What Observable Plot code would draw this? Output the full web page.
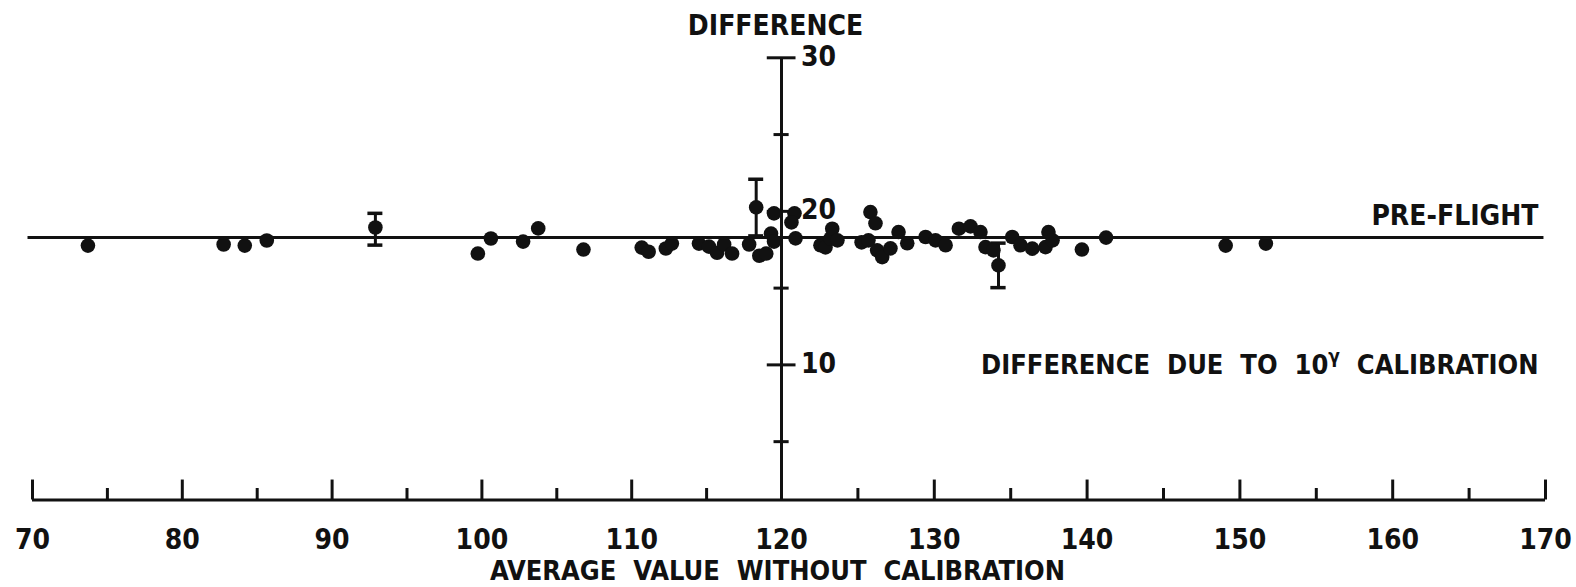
<!DOCTYPE html>
<html>
<head>
<meta charset="utf-8">
<script src="https://cdn.jsdelivr.net/npm/d3@7"></script>
<script src="https://cdn.jsdelivr.net/npm/@observablehq/plot@0.6"></script>
<style>
  html, body { margin: 0; padding: 0; background: #fff; }
  svg { display: block; }
</style>
</head>
<body>
<div id="chart"></div>
<script>
// Average value without calibration (x) and difference (y) of each observation
const avgValue = [73.7, 82.76, 84.17, 85.64, 92.89, 99.73, 100.6, 102.75, 103.76, 106.78,
  110.67, 111.13, 112.28, 112.68, 114.49, 115.16, 115.7, 116.17, 116.7, 117.84,
  118.31, 118.52, 118.98, 119.3, 119.5, 119.5,
  120.85, 120.65, 120.92, 122.55, 122.88, 123.21, 123.32, 123.66, 125.24, 125.69,
  125.82, 126.15, 126.26, 126.59, 127.13, 127.66, 128.23, 129.43, 130.08, 130.74,
  131.61, 132.37, 133.02, 133.35, 133.87, 134.2, 135.1, 135.64, 136.41, 137.28,
  137.47, 137.74, 139.66, 141.24, 149.07, 151.7];
const difference = [17.77, 17.84, 17.77, 18.1, 18.95, 17.25, 18.23, 18.03, 18.89, 17.51,
  17.64, 17.37, 17.58, 17.9, 17.9, 17.7, 17.3, 17.84, 17.25, 17.84,
  20.26, 17.11, 17.25, 18.55, 18.03, 19.87,
  19.87, 19.28, 18.24, 17.79, 17.65, 18.24, 18.87, 18.11, 17.98, 18.11,
  19.95, 19.22, 17.46, 17.02, 17.59, 18.65, 17.92, 18.33, 18.11, 17.79,
  18.87, 19.02, 18.65, 17.67, 17.46, 16.48, 18.33, 17.79, 17.57, 17.67,
  18.65, 18.11, 17.51, 18.29, 17.77, 17.9];

// Error bars
const errX = [92.89, 118.31, 134.2];
const errLow = [17.8, 18.4, 15.03];
const errHigh = [19.87, 22.09, 17.93];

// Pre-flight reference level
const preFlight = 18.3;

// Axis ticks
const xTicks = d3.range(70, 171, 5);
const xTickLabels = [70, 80, 90, 100, 110, 120, 130, 140, 150, 160, 170];
const yTicks = [5, 10, 15, 20, 25, 30];
const yTickLabels = [10, 20, 30];
const xMin = 70, xMax = 170, yAxisAt = 120, xAxisAt = 1.2, yTop = 30;

const points = avgValue.map((x, i) => ({x, y: difference[i]}));
const errs = errX.map((x, i) => ({x, lo: errLow[i], hi: errHigh[i]}));
const caps = errs.flatMap(d => [{x: d.x, y: d.lo}, {x: d.x, y: d.hi}]);

const font = "'DejaVu Sans Condensed', 'DejaVu Sans', sans-serif";
const ink = "#111";

const chart = Plot.plot({
  width: 1576,
  height: 587,
  margin: 0,
  style: {background: "#fff", fontFamily: font},
  x: {type: "linear", domain: [70, 120, 170], range: [32, 781, 1545], axis: null},
  y: {type: "linear", domain: [1.2, 30], range: [499.5, 57.3], axis: null},
  marks: [
    // x axis baseline and upward ticks
    Plot.ruleY([xAxisAt], {x1: xMin, x2: xMax, stroke: ink, strokeWidth: 3}),
    Plot.ruleX(xTicks, {x: d => d, y1: xAxisAt, y2: d => xAxisAt + (d % 10 === 0 ? 1.3 : 0.75), stroke: ink, strokeWidth: 3}),
    Plot.text(xTickLabels, {x: d => d, y: xAxisAt, dy: 40, text: d => String(d), fontSize: 28, fontWeight: "bold", fill: ink}),
    Plot.text(["AVERAGE  VALUE  WITHOUT  CALIBRATION"], {x: yAxisAt, y: xAxisAt, dy: 71, dx: -4, text: d => d, fontSize: 27, fontWeight: "bold", fill: ink}),
    // y axis
    Plot.ruleX([yAxisAt], {y1: xAxisAt, y2: yTop, stroke: ink, strokeWidth: 3}),
    Plot.ruleY(yTicks, {y: d => d, x1: d => yAxisAt - (d % 10 === 0 ? 0.95 : 0.5), x2: d => yAxisAt + (d % 10 === 0 ? 0.95 : 0.5), stroke: ink, strokeWidth: 3}),
    Plot.text(yTickLabels, {x: yAxisAt, y: d => d, dx: 37, dy: -1, textAnchor: "middle", text: d => String(d), fontSize: 28, fontWeight: "bold", fill: ink}),
    Plot.text(["DIFFERENCE"], {x: yAxisAt, y: yTop, dy: -32, dx: -6, text: d => d, fontSize: 28, fontWeight: "bold", fill: ink}),
    // pre-flight line
    Plot.ruleY([preFlight], {x1: 69.7, x2: 169.9, stroke: ink, strokeWidth: 3}),
    Plot.text(["PRE-FLIGHT"], {x: xMax, y: preFlight, dx: -7, dy: -21, textAnchor: "end", text: d => d, fontSize: 28, fontWeight: "bold", fill: ink}),
    Plot.text(["DIFFERENCE  DUE  TO  10γ  CALIBRATION"], {x: xMax, y: 10, dx: -7, textAnchor: "end", text: d => d, fontSize: 27, fontWeight: "bold", fill: ink}),
    // error bars
    Plot.ruleX(errs, {x: "x", y1: "lo", y2: "hi", stroke: ink, strokeWidth: 3}),
    Plot.ruleY(caps, {y: "y", x1: d => d.x - 0.5, x2: d => d.x + 0.5, stroke: ink, strokeWidth: 3.5}),
    // observations
    Plot.dot(points, {x: "x", y: "y", r: 7.3, fill: ink, stroke: "none"})
  ]
});

// raise the gamma as a superscript
chart.querySelectorAll("text").forEach(t => {
  const s = t.textContent;
  if (s.includes("γ")) {
    const [a, b] = s.split("γ");
    while (t.firstChild) t.removeChild(t.firstChild);
    const ns = "http://www.w3.org/2000/svg";
    const t1 = document.createElementNS(ns, "tspan"); t1.textContent = a;
    const t2 = document.createElementNS(ns, "tspan"); t2.textContent = "γ";
    t2.setAttribute("dy", "-11"); t2.setAttribute("font-size", "19");
    const t3 = document.createElementNS(ns, "tspan"); t3.textContent = b;
    t3.setAttribute("dy", "11");
    t.append(t1, t2, t3);
  }
});

document.getElementById("chart").appendChild(chart);
</script>
</body>
</html>
